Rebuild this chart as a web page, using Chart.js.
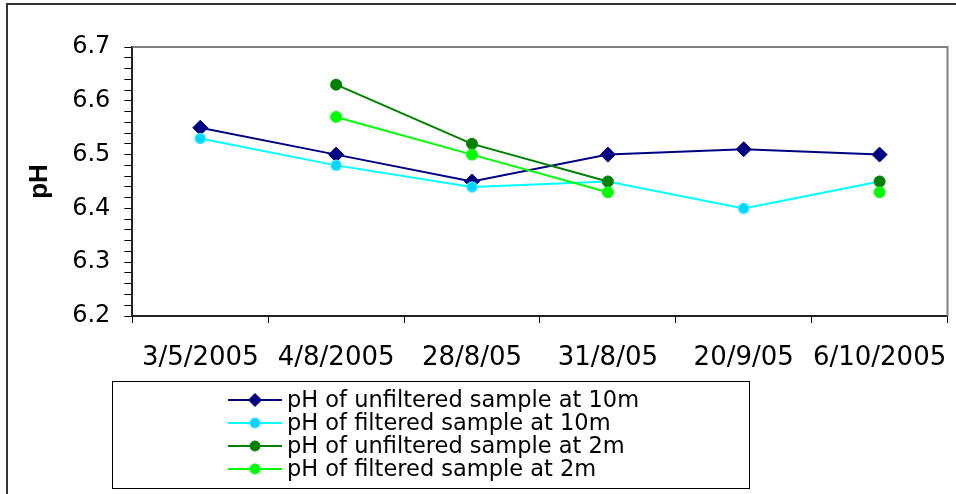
<!DOCTYPE html>
<html lang="en">
<head>
    <meta charset="UTF-8">
    <title>pH</title>
    <style>
        body { margin: 0; background: #fff; }
        #ph-chart { display: block; }
    </style>
</head>
<body>
    <canvas id="ph-chart" width="956" height="494"></canvas>
    <script src="https://cdn.jsdelivr.net/npm/chart.js"></script>
    <script>
// data
const dates = ['3/5/2005', '4/8/2005', '28/8/05', '31/8/05', '20/9/05', '6/10/2005'];
const unfiltered10m = [6.55, 6.50, 6.45, 6.50, 6.51, 6.50];
const filtered10m = [6.53, 6.48, 6.44, 6.45, 6.40, 6.45];
const unfiltered2m = [null, 6.63, 6.52, 6.45, null, 6.45];
const filtered2m = [null, 6.57, 6.50, 6.43, null, 6.43];
const seriesNames = [
    'pH of unfiltered sample at 10m',
    'pH of filtered sample at 10m',
    'pH of unfiltered sample at 2m',
    'pH of filtered sample at 2m'
];
const yMin = 6.2, yMax = 6.7;

// the original text is a stretched Arial, DejaVu Sans is closer in width
const FONT = "'DejaVu Sans', 'Liberation Sans', Arial, sans-serif";
const TITLE_FONT = "'Liberation Sans', Arial, sans-serif";

// frame around the plot + outer frame + legend box
const framePlugin = {
    id: 'frames',
    beforeDatasetsDraw(chart) {
        const { ctx, chartArea: a } = chart;
        ctx.save();
        ctx.strokeStyle = '#808080';
        ctx.lineWidth = 2;
        ctx.beginPath();
        ctx.moveTo(a.left, a.top);
        ctx.lineTo(a.right, a.top);
        ctx.lineTo(a.right, a.bottom);
        ctx.stroke();
        ctx.restore();
    },
    afterDraw(chart) {
        const ctx = chart.ctx;
        ctx.save();
        // outer chart border (cut off at right and bottom)
        ctx.strokeStyle = '#333';
        ctx.lineWidth = 2;
        ctx.beginPath();
        ctx.moveTo(7, chart.height + 5);
        ctx.lineTo(7, 4);
        ctx.lineTo(chart.width + 5, 4);
        ctx.stroke();

        // legend
        const box = { left: 112.5, top: 381.5, right: 749.5, bottom: 488.5 };
        ctx.strokeStyle = '#000';
        ctx.lineWidth = 1;
        ctx.strokeRect(box.left, box.top, box.right - box.left, box.bottom - box.top);

        ctx.font = '22.5px ' + FONT;
        ctx.textBaseline = 'middle';
        ctx.textAlign = 'left';
        chart.data.datasets.forEach((ds, i) => {
            const y = 400 + i * 23;
            ctx.strokeStyle = ds.borderColor;
            ctx.lineWidth = 2;
            ctx.beginPath();
            ctx.moveTo(228, y);
            ctx.lineTo(282, y);
            ctx.stroke();
            ctx.fillStyle = ds.pointBackgroundColor;
            ctx.strokeStyle = ds.pointBorderColor;
            ctx.lineWidth = 1;
            ctx.beginPath();
            if (ds.pointStyle === 'rectRot') {
                ctx.moveTo(255 - 6.5, y);
                ctx.lineTo(255, y - 6.5);
                ctx.lineTo(255 + 6.5, y);
                ctx.lineTo(255, y + 6.5);
                ctx.closePath();
            } else {
                ctx.arc(255, y, 5, 0, Math.PI * 2);
            }
            ctx.fill();
            ctx.stroke();
            ctx.fillStyle = '#000';
            ctx.fillText(ds.label, 287, y + 1);
        });
        ctx.restore();
    }
};

const ctx = document.getElementById('ph-chart').getContext('2d');
const chart = new Chart(ctx, {
    type: 'line',
    data: {
        labels: dates,
        datasets: [
            {
                label: seriesNames[0], data: unfiltered10m, order: 4,
                borderColor: '#000080', borderWidth: 2,
                pointStyle: 'rectRot', pointRadius: 7.5,
                pointBackgroundColor: '#000080', pointBorderColor: '#000080', pointBorderWidth: 1
            },
            {
                label: seriesNames[1], data: filtered10m, order: 3,
                borderColor: '#00FFFF', borderWidth: 2,
                pointStyle: 'circle', pointRadius: 5,
                pointBackgroundColor: '#00D4FF', pointBorderColor: '#33E8FF', pointBorderWidth: 1.5
            },
            {
                label: seriesNames[2], data: unfiltered2m, order: 2,
                borderColor: '#008000', borderWidth: 2,
                pointStyle: 'circle', pointRadius: 5.5,
                pointBackgroundColor: '#008000', pointBorderColor: '#008000', pointBorderWidth: 1
            },
            {
                label: seriesNames[3], data: filtered2m, order: 1,
                borderColor: '#00FF00', borderWidth: 2,
                pointStyle: 'circle', pointRadius: 5.5,
                pointBackgroundColor: '#00FF00', pointBorderColor: '#00FF00', pointBorderWidth: 1
            }
        ]
    },
    options: {
        responsive: false,
        devicePixelRatio: 1,
        animation: false,
        spanGaps: false,
        layout: { padding: { left: 24, top: 47, right: 5, bottom: 100 } },
        plugins: {
            legend: { display: false },
            tooltip: { enabled: false }
        },
        scales: {
            x: {
                offset: true,
                grid: { offset: true, drawOnChartArea: false, tickLength: 7, color: '#000', lineWidth: 1 },
                border: { color: '#222', width: 2 },
                ticks: {
                    // tall line height pushes the labels down without widening the side padding
                    color: '#000', padding: 0, maxRotation: 0, autoSkip: false,
                    font: { family: FONT, size: 26, lineHeight: 2.73 }
                }
            },
            y: {
                min: yMin, max: yMax,
                grid: { drawOnChartArea: false, tickLength: 8, color: '#000', lineWidth: 1 },
                border: { color: '#222', width: 2 },
                ticks: {
                    stepSize: 0.02, color: '#000', padding: 14, autoSkip: false,
                    font: { family: FONT, size: 24 },
                    callback: (v) => Math.abs(v * 10 - Math.round(v * 10)) < 1e-6 ? v.toFixed(1) : ''
                },
                title: {
                    display: true, text: 'pH', color: '#000',
                    font: { family: TITLE_FONT, size: 26, weight: 'bold' },
                    padding: { top: 0, bottom: 3 }
                }
            }
        }
    },
    plugins: [framePlugin]
});
    </script>
</body>
</html>
